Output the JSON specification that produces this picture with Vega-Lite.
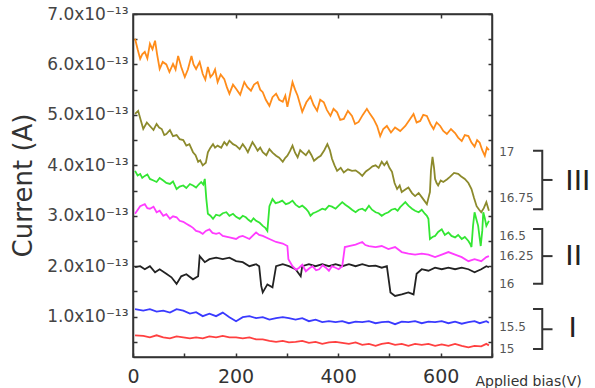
{
  "$schema": "https://vega.github.io/schema/vega-lite/v6.json",
  "width": 359,
  "height": 343,
  "autosize": {"type": "none"},
  "padding": {"left": 133, "top": 14, "right": 103, "bottom": 31},
  "background": "white",
  "config": {"view": {"stroke": "#333", "strokeWidth": 1.5}, "font": "DejaVu Sans"},
  "datasets": {
    "curves": [
      {"s":"red","x":4,"y":0.63},{"s":"red","x":20,"y":0.62},{"s":"red","x":33,"y":0.59},{"s":"red","x":46,"y":0.63},{"s":"red","x":59,"y":0.59},{"s":"red","x":72,"y":0.57},{"s":"red","x":85,"y":0.61},{"s":"red","x":98,"y":0.59},{"s":"red","x":111,"y":0.57},{"s":"red","x":123,"y":0.59},{"s":"red","x":136,"y":0.57},{"s":"red","x":149,"y":0.61},{"s":"red","x":162,"y":0.59},{"s":"red","x":175,"y":0.62},{"s":"red","x":188,"y":0.59},{"s":"red","x":201,"y":0.59},{"s":"red","x":214,"y":0.57},{"s":"red","x":227,"y":0.59},{"s":"red","x":240,"y":0.55},{"s":"red","x":253,"y":0.55},{"s":"red","x":266,"y":0.52},{"s":"red","x":279,"y":0.5},{"s":"red","x":292,"y":0.52},{"s":"red","x":304,"y":0.49},{"s":"red","x":317,"y":0.5},{"s":"red","x":330,"y":0.52},{"s":"red","x":343,"y":0.48},{"s":"red","x":356,"y":0.5},{"s":"red","x":369,"y":0.46},{"s":"red","x":382,"y":0.49},{"s":"red","x":395,"y":0.5},{"s":"red","x":408,"y":0.48},{"s":"red","x":421,"y":0.46},{"s":"red","x":434,"y":0.49},{"s":"red","x":447,"y":0.44},{"s":"red","x":460,"y":0.46},{"s":"red","x":473,"y":0.42},{"s":"red","x":485,"y":0.46},{"s":"red","x":498,"y":0.48},{"s":"red","x":511,"y":0.44},{"s":"red","x":524,"y":0.46},{"s":"red","x":537,"y":0.42},{"s":"red","x":550,"y":0.46},{"s":"red","x":563,"y":0.44},{"s":"red","x":576,"y":0.46},{"s":"red","x":589,"y":0.42},{"s":"red","x":602,"y":0.45},{"s":"red","x":615,"y":0.42},{"s":"red","x":628,"y":0.46},{"s":"red","x":641,"y":0.42},{"s":"red","x":654,"y":0.39},{"s":"red","x":666,"y":0.42},{"s":"red","x":679,"y":0.41},{"s":"red","x":689,"y":0.46},{"s":"red","x":694,"y":0.43},
      {"s":"blue","x":4,"y":1.15},{"s":"blue","x":20,"y":1.12},{"s":"blue","x":33,"y":1.15},{"s":"blue","x":46,"y":1.1},{"s":"blue","x":59,"y":1.12},{"s":"blue","x":72,"y":1.08},{"s":"blue","x":85,"y":1.15},{"s":"blue","x":98,"y":1.12},{"s":"blue","x":111,"y":1.06},{"s":"blue","x":123,"y":1.09},{"s":"blue","x":136,"y":1.01},{"s":"blue","x":149,"y":1.06},{"s":"blue","x":162,"y":1.01},{"s":"blue","x":175,"y":1.08},{"s":"blue","x":188,"y":0.99},{"s":"blue","x":201,"y":0.91},{"s":"blue","x":214,"y":0.99},{"s":"blue","x":227,"y":1.01},{"s":"blue","x":240,"y":0.97},{"s":"blue","x":253,"y":0.99},{"s":"blue","x":266,"y":0.94},{"s":"blue","x":279,"y":0.97},{"s":"blue","x":292,"y":0.99},{"s":"blue","x":304,"y":0.97},{"s":"blue","x":317,"y":0.94},{"s":"blue","x":330,"y":0.97},{"s":"blue","x":343,"y":0.91},{"s":"blue","x":356,"y":0.94},{"s":"blue","x":369,"y":0.89},{"s":"blue","x":382,"y":0.91},{"s":"blue","x":395,"y":0.89},{"s":"blue","x":408,"y":0.91},{"s":"blue","x":421,"y":0.87},{"s":"blue","x":434,"y":0.9},{"s":"blue","x":447,"y":0.89},{"s":"blue","x":460,"y":0.91},{"s":"blue","x":473,"y":0.87},{"s":"blue","x":485,"y":0.89},{"s":"blue","x":498,"y":0.9},{"s":"blue","x":511,"y":0.85},{"s":"blue","x":524,"y":0.9},{"s":"blue","x":537,"y":0.89},{"s":"blue","x":550,"y":0.91},{"s":"blue","x":563,"y":0.87},{"s":"blue","x":576,"y":0.9},{"s":"blue","x":589,"y":0.89},{"s":"blue","x":602,"y":0.91},{"s":"blue","x":615,"y":0.87},{"s":"blue","x":628,"y":0.9},{"s":"blue","x":641,"y":0.86},{"s":"blue","x":654,"y":0.89},{"s":"blue","x":666,"y":0.91},{"s":"blue","x":676,"y":0.87},{"s":"blue","x":689,"y":0.91},{"s":"blue","x":694,"y":0.88},
      {"s":"black","x":4,"y":1.98},{"s":"black","x":14,"y":2.0},{"s":"black","x":23,"y":1.94},{"s":"black","x":33,"y":2.0},{"s":"black","x":43,"y":1.88},{"s":"black","x":52,"y":1.94},{"s":"black","x":65,"y":1.85},{"s":"black","x":75,"y":1.78},{"s":"black","x":85,"y":1.65},{"s":"black","x":94,"y":1.8},{"s":"black","x":104,"y":1.84},{"s":"black","x":117,"y":1.74},{"s":"black","x":127,"y":1.8},{"s":"black","x":130,"y":2.2},{"s":"black","x":140,"y":2.08},{"s":"black","x":149,"y":2.14},{"s":"black","x":162,"y":2.17},{"s":"black","x":175,"y":2.14},{"s":"black","x":188,"y":2.17},{"s":"black","x":201,"y":2.1},{"s":"black","x":214,"y":2.08},{"s":"black","x":227,"y":2.0},{"s":"black","x":240,"y":2.04},{"s":"black","x":246,"y":2.0},{"s":"black","x":250,"y":1.61},{"s":"black","x":253,"y":1.48},{"s":"black","x":262,"y":1.64},{"s":"black","x":272,"y":1.58},{"s":"black","x":279,"y":2.0},{"s":"black","x":292,"y":2.04},{"s":"black","x":304,"y":2.0},{"s":"black","x":317,"y":1.94},{"s":"black","x":327,"y":1.8},{"s":"black","x":330,"y":2.0},{"s":"black","x":343,"y":2.04},{"s":"black","x":356,"y":2.0},{"s":"black","x":369,"y":2.04},{"s":"black","x":382,"y":2.0},{"s":"black","x":395,"y":2.04},{"s":"black","x":408,"y":2.0},{"s":"black","x":421,"y":2.04},{"s":"black","x":434,"y":2.0},{"s":"black","x":447,"y":2.04},{"s":"black","x":460,"y":2.0},{"s":"black","x":473,"y":2.01},{"s":"black","x":485,"y":1.97},{"s":"black","x":495,"y":2.0},{"s":"black","x":502,"y":1.48},{"s":"black","x":511,"y":1.41},{"s":"black","x":524,"y":1.44},{"s":"black","x":537,"y":1.48},{"s":"black","x":547,"y":1.44},{"s":"black","x":553,"y":1.85},{"s":"black","x":563,"y":1.94},{"s":"black","x":576,"y":1.91},{"s":"black","x":589,"y":1.97},{"s":"black","x":602,"y":1.94},{"s":"black","x":615,"y":1.97},{"s":"black","x":628,"y":1.94},{"s":"black","x":641,"y":1.97},{"s":"black","x":654,"y":1.94},{"s":"black","x":666,"y":1.88},{"s":"black","x":679,"y":1.94},{"s":"black","x":689,"y":2.0},{"s":"black","x":694,"y":1.98},
      {"s":"magenta","x":4,"y":3.04},{"s":"magenta","x":14,"y":3.19},{"s":"magenta","x":23,"y":3.23},{"s":"magenta","x":28,"y":3.15},{"s":"magenta","x":33,"y":3.14},{"s":"magenta","x":40,"y":3.18},{"s":"magenta","x":46,"y":3.07},{"s":"magenta","x":52,"y":3.1},{"s":"magenta","x":59,"y":3.0},{"s":"magenta","x":65,"y":3.03},{"s":"magenta","x":72,"y":2.94},{"s":"magenta","x":78,"y":2.99},{"s":"magenta","x":85,"y":2.97},{"s":"magenta","x":91,"y":2.9},{"s":"magenta","x":98,"y":2.88},{"s":"magenta","x":104,"y":2.84},{"s":"magenta","x":111,"y":2.8},{"s":"magenta","x":117,"y":2.76},{"s":"magenta","x":123,"y":2.7},{"s":"magenta","x":130,"y":2.68},{"s":"magenta","x":136,"y":2.64},{"s":"magenta","x":142,"y":2.7},{"s":"magenta","x":149,"y":2.73},{"s":"magenta","x":155,"y":2.66},{"s":"magenta","x":162,"y":2.64},{"s":"magenta","x":168,"y":2.66},{"s":"magenta","x":175,"y":2.6},{"s":"magenta","x":188,"y":2.57},{"s":"magenta","x":201,"y":2.54},{"s":"magenta","x":207,"y":2.58},{"s":"magenta","x":214,"y":2.6},{"s":"magenta","x":227,"y":2.54},{"s":"magenta","x":240,"y":2.67},{"s":"magenta","x":246,"y":2.62},{"s":"magenta","x":253,"y":2.6},{"s":"magenta","x":266,"y":2.54},{"s":"magenta","x":279,"y":2.48},{"s":"magenta","x":292,"y":2.45},{"s":"magenta","x":301,"y":2.4},{"s":"magenta","x":303,"y":2.14},{"s":"magenta","x":311,"y":2.0},{"s":"magenta","x":318,"y":1.93},{"s":"magenta","x":324,"y":1.97},{"s":"magenta","x":330,"y":2.03},{"s":"magenta","x":337,"y":1.9},{"s":"magenta","x":344,"y":1.96},{"s":"magenta","x":350,"y":2.0},{"s":"magenta","x":357,"y":1.92},{"s":"magenta","x":363,"y":1.94},{"s":"magenta","x":370,"y":2.02},{"s":"magenta","x":376,"y":1.97},{"s":"magenta","x":382,"y":1.91},{"s":"magenta","x":388,"y":2.0},{"s":"magenta","x":395,"y":1.97},{"s":"magenta","x":401,"y":1.94},{"s":"magenta","x":408,"y":2.0},{"s":"magenta","x":413,"y":2.38},{"s":"magenta","x":421,"y":2.4},{"s":"magenta","x":434,"y":2.43},{"s":"magenta","x":447,"y":2.48},{"s":"magenta","x":453,"y":2.42},{"s":"magenta","x":460,"y":2.4},{"s":"magenta","x":473,"y":2.38},{"s":"magenta","x":485,"y":2.4},{"s":"magenta","x":498,"y":2.34},{"s":"magenta","x":511,"y":2.38},{"s":"magenta","x":524,"y":2.28},{"s":"magenta","x":537,"y":2.25},{"s":"magenta","x":550,"y":2.23},{"s":"magenta","x":563,"y":2.25},{"s":"magenta","x":576,"y":2.23},{"s":"magenta","x":589,"y":2.18},{"s":"magenta","x":602,"y":2.23},{"s":"magenta","x":615,"y":2.28},{"s":"magenta","x":628,"y":2.23},{"s":"magenta","x":641,"y":2.18},{"s":"magenta","x":654,"y":2.1},{"s":"magenta","x":666,"y":2.14},{"s":"magenta","x":679,"y":2.1},{"s":"magenta","x":689,"y":2.18},{"s":"magenta","x":694,"y":2.2},
      {"s":"green","x":4,"y":3.89},{"s":"green","x":9,"y":3.8},{"s":"green","x":14,"y":3.83},{"s":"green","x":18,"y":3.75},{"s":"green","x":23,"y":3.79},{"s":"green","x":28,"y":3.82},{"s":"green","x":33,"y":3.73},{"s":"green","x":40,"y":3.7},{"s":"green","x":46,"y":3.67},{"s":"green","x":52,"y":3.75},{"s":"green","x":59,"y":3.7},{"s":"green","x":65,"y":3.65},{"s":"green","x":72,"y":3.63},{"s":"green","x":78,"y":3.68},{"s":"green","x":85,"y":3.53},{"s":"green","x":91,"y":3.58},{"s":"green","x":98,"y":3.6},{"s":"green","x":104,"y":3.55},{"s":"green","x":111,"y":3.63},{"s":"green","x":117,"y":3.6},{"s":"green","x":123,"y":3.56},{"s":"green","x":128,"y":3.62},{"s":"green","x":133,"y":3.67},{"s":"green","x":137,"y":3.62},{"s":"green","x":140,"y":3.73},{"s":"green","x":143,"y":3.33},{"s":"green","x":146,"y":3.04},{"s":"green","x":151,"y":3.0},{"s":"green","x":156,"y":2.94},{"s":"green","x":162,"y":3.02},{"s":"green","x":169,"y":3.0},{"s":"green","x":175,"y":3.05},{"s":"green","x":182,"y":3.07},{"s":"green","x":188,"y":3.0},{"s":"green","x":195,"y":3.04},{"s":"green","x":201,"y":2.98},{"s":"green","x":208,"y":2.94},{"s":"green","x":214,"y":3.0},{"s":"green","x":220,"y":2.97},{"s":"green","x":225,"y":2.92},{"s":"green","x":230,"y":2.88},{"s":"green","x":235,"y":2.95},{"s":"green","x":240,"y":2.9},{"s":"green","x":247,"y":2.86},{"s":"green","x":253,"y":2.8},{"s":"green","x":258,"y":2.76},{"s":"green","x":262,"y":2.7},{"s":"green","x":266,"y":3.19},{"s":"green","x":272,"y":3.33},{"s":"green","x":278,"y":3.25},{"s":"green","x":285,"y":3.27},{"s":"green","x":291,"y":3.3},{"s":"green","x":298,"y":3.23},{"s":"green","x":304,"y":3.25},{"s":"green","x":311,"y":3.3},{"s":"green","x":317,"y":3.22},{"s":"green","x":324,"y":3.17},{"s":"green","x":330,"y":3.2},{"s":"green","x":337,"y":3.14},{"s":"green","x":342,"y":3.08},{"s":"green","x":346,"y":3.0},{"s":"green","x":351,"y":3.05},{"s":"green","x":356,"y":3.07},{"s":"green","x":362,"y":3.1},{"s":"green","x":369,"y":3.14},{"s":"green","x":375,"y":3.12},{"s":"green","x":382,"y":3.2},{"s":"green","x":388,"y":3.18},{"s":"green","x":395,"y":3.14},{"s":"green","x":401,"y":3.2},{"s":"green","x":408,"y":3.27},{"s":"green","x":414,"y":3.22},{"s":"green","x":421,"y":3.17},{"s":"green","x":427,"y":3.12},{"s":"green","x":434,"y":3.07},{"s":"green","x":440,"y":3.12},{"s":"green","x":447,"y":3.14},{"s":"green","x":453,"y":3.1},{"s":"green","x":460,"y":3.2},{"s":"green","x":466,"y":3.12},{"s":"green","x":473,"y":3.07},{"s":"green","x":479,"y":3.05},{"s":"green","x":485,"y":3.0},{"s":"green","x":491,"y":3.04},{"s":"green","x":498,"y":3.07},{"s":"green","x":504,"y":3.12},{"s":"green","x":511,"y":3.14},{"s":"green","x":516,"y":3.1},{"s":"green","x":521,"y":3.17},{"s":"green","x":526,"y":3.22},{"s":"green","x":531,"y":3.27},{"s":"green","x":537,"y":3.2},{"s":"green","x":544,"y":3.14},{"s":"green","x":550,"y":3.1},{"s":"green","x":557,"y":3.07},{"s":"green","x":563,"y":3.12},{"s":"green","x":569,"y":3.04},{"s":"green","x":573,"y":3.0},{"s":"green","x":576,"y":2.94},{"s":"green","x":579,"y":2.54},{"s":"green","x":584,"y":2.58},{"s":"green","x":589,"y":2.6},{"s":"green","x":595,"y":2.68},{"s":"green","x":602,"y":2.73},{"s":"green","x":608,"y":2.62},{"s":"green","x":615,"y":2.67},{"s":"green","x":621,"y":2.6},{"s":"green","x":628,"y":2.57},{"s":"green","x":634,"y":2.62},{"s":"green","x":641,"y":2.54},{"s":"green","x":647,"y":2.58},{"s":"green","x":654,"y":2.5},{"s":"green","x":657,"y":2.45},{"s":"green","x":660,"y":2.38},{"s":"green","x":663,"y":2.8},{"s":"green","x":666,"y":3.07},{"s":"green","x":669,"y":2.95},{"s":"green","x":673,"y":2.8},{"s":"green","x":676,"y":2.55},{"s":"green","x":678,"y":2.4},{"s":"green","x":681,"y":2.7},{"s":"green","x":683,"y":3.07},{"s":"green","x":686,"y":2.95},{"s":"green","x":689,"y":2.8},{"s":"green","x":694,"y":2.9},
      {"s":"olive","x":4,"y":5.02},{"s":"olive","x":10,"y":5.08},{"s":"olive","x":15,"y":4.9},{"s":"olive","x":20,"y":4.72},{"s":"olive","x":27,"y":4.85},{"s":"olive","x":33,"y":4.78},{"s":"olive","x":40,"y":4.7},{"s":"olive","x":46,"y":4.82},{"s":"olive","x":51,"y":4.75},{"s":"olive","x":56,"y":4.72},{"s":"olive","x":61,"y":4.6},{"s":"olive","x":65,"y":4.62},{"s":"olive","x":72,"y":4.7},{"s":"olive","x":78,"y":4.58},{"s":"olive","x":85,"y":4.6},{"s":"olive","x":91,"y":4.52},{"s":"olive","x":98,"y":4.5},{"s":"olive","x":104,"y":4.39},{"s":"olive","x":110,"y":4.42},{"s":"olive","x":117,"y":4.26},{"s":"olive","x":122,"y":4.2},{"s":"olive","x":127,"y":4.07},{"s":"olive","x":131,"y":4.1},{"s":"olive","x":136,"y":4.0},{"s":"olive","x":142,"y":4.05},{"s":"olive","x":146,"y":4.26},{"s":"olive","x":151,"y":4.35},{"s":"olive","x":156,"y":4.42},{"s":"olive","x":160,"y":4.35},{"s":"olive","x":165,"y":4.39},{"s":"olive","x":172,"y":4.35},{"s":"olive","x":178,"y":4.46},{"s":"olive","x":183,"y":4.4},{"s":"olive","x":188,"y":4.49},{"s":"olive","x":195,"y":4.42},{"s":"olive","x":201,"y":4.39},{"s":"olive","x":208,"y":4.32},{"s":"olive","x":214,"y":4.42},{"s":"olive","x":219,"y":4.35},{"s":"olive","x":224,"y":4.26},{"s":"olive","x":228,"y":4.35},{"s":"olive","x":233,"y":4.46},{"s":"olive","x":238,"y":4.38},{"s":"olive","x":243,"y":4.29},{"s":"olive","x":248,"y":4.35},{"s":"olive","x":253,"y":4.26},{"s":"olive","x":260,"y":4.2},{"s":"olive","x":266,"y":4.32},{"s":"olive","x":272,"y":4.25},{"s":"olive","x":279,"y":4.19},{"s":"olive","x":285,"y":4.15},{"s":"olive","x":292,"y":4.07},{"s":"olive","x":297,"y":4.15},{"s":"olive","x":301,"y":4.19},{"s":"olive","x":306,"y":4.28},{"s":"olive","x":311,"y":4.39},{"s":"olive","x":316,"y":4.25},{"s":"olive","x":321,"y":4.16},{"s":"olive","x":326,"y":4.3},{"s":"olive","x":330,"y":4.26},{"s":"olive","x":337,"y":4.2},{"s":"olive","x":343,"y":4.29},{"s":"olive","x":348,"y":4.2},{"s":"olive","x":353,"y":4.09},{"s":"olive","x":360,"y":4.15},{"s":"olive","x":366,"y":4.19},{"s":"olive","x":373,"y":4.3},{"s":"olive","x":379,"y":4.42},{"s":"olive","x":384,"y":4.3},{"s":"olive","x":388,"y":4.13},{"s":"olive","x":393,"y":4.0},{"s":"olive","x":398,"y":3.89},{"s":"olive","x":405,"y":3.95},{"s":"olive","x":411,"y":3.86},{"s":"olive","x":419,"y":3.92},{"s":"olive","x":427,"y":3.89},{"s":"olive","x":434,"y":3.9},{"s":"olive","x":441,"y":3.85},{"s":"olive","x":447,"y":3.79},{"s":"olive","x":454,"y":3.88},{"s":"olive","x":460,"y":3.92},{"s":"olive","x":467,"y":3.98},{"s":"olive","x":473,"y":4.0},{"s":"olive","x":479,"y":3.95},{"s":"olive","x":485,"y":4.07},{"s":"olive","x":490,"y":4.0},{"s":"olive","x":495,"y":4.07},{"s":"olive","x":500,"y":3.95},{"s":"olive","x":505,"y":3.87},{"s":"olive","x":510,"y":3.65},{"s":"olive","x":515,"y":3.53},{"s":"olive","x":520,"y":3.6},{"s":"olive","x":524,"y":3.47},{"s":"olive","x":531,"y":3.52},{"s":"olive","x":537,"y":3.56},{"s":"olive","x":544,"y":3.45},{"s":"olive","x":550,"y":3.39},{"s":"olive","x":557,"y":3.45},{"s":"olive","x":563,"y":3.37},{"s":"olive","x":568,"y":3.3},{"s":"olive","x":573,"y":3.23},{"s":"olive","x":576,"y":3.35},{"s":"olive","x":579,"y":3.47},{"s":"olive","x":581,"y":3.9},{"s":"olive","x":584,"y":4.17},{"s":"olive","x":587,"y":3.95},{"s":"olive","x":589,"y":3.73},{"s":"olive","x":592,"y":3.65},{"s":"olive","x":595,"y":3.6},{"s":"olive","x":600,"y":3.7},{"s":"olive","x":605,"y":3.67},{"s":"olive","x":612,"y":3.72},{"s":"olive","x":618,"y":3.77},{"s":"olive","x":626,"y":3.85},{"s":"olive","x":634,"y":3.83},{"s":"olive","x":640,"y":3.78},{"s":"olive","x":647,"y":3.73},{"s":"olive","x":654,"y":3.65},{"s":"olive","x":660,"y":3.53},{"s":"olive","x":665,"y":3.35},{"s":"olive","x":670,"y":3.19},{"s":"olive","x":675,"y":3.12},{"s":"olive","x":679,"y":3.07},{"s":"olive","x":684,"y":3.15},{"s":"olive","x":689,"y":3.27},{"s":"olive","x":694,"y":3.1},
      {"s":"orange","x":4,"y":6.51},{"s":"orange","x":9,"y":6.3},{"s":"orange","x":14,"y":6.11},{"s":"orange","x":18,"y":6.2},{"s":"orange","x":23,"y":6.25},{"s":"orange","x":28,"y":6.12},{"s":"orange","x":33,"y":6.41},{"s":"orange","x":38,"y":6.3},{"s":"orange","x":43,"y":6.47},{"s":"orange","x":47,"y":6.2},{"s":"orange","x":52,"y":5.91},{"s":"orange","x":58,"y":6.05},{"s":"orange","x":65,"y":6.0},{"s":"orange","x":71,"y":5.85},{"s":"orange","x":78,"y":6.01},{"s":"orange","x":83,"y":5.9},{"s":"orange","x":88,"y":6.17},{"s":"orange","x":94,"y":5.95},{"s":"orange","x":101,"y":5.75},{"s":"orange","x":107,"y":5.9},{"s":"orange","x":114,"y":6.17},{"s":"orange","x":118,"y":6.0},{"s":"orange","x":123,"y":5.91},{"s":"orange","x":130,"y":6.05},{"s":"orange","x":136,"y":5.81},{"s":"orange","x":141,"y":5.7},{"s":"orange","x":146,"y":5.95},{"s":"orange","x":151,"y":5.75},{"s":"orange","x":156,"y":5.81},{"s":"orange","x":160,"y":5.9},{"s":"orange","x":165,"y":5.65},{"s":"orange","x":171,"y":5.8},{"s":"orange","x":178,"y":5.71},{"s":"orange","x":183,"y":5.55},{"s":"orange","x":188,"y":5.42},{"s":"orange","x":195,"y":5.6},{"s":"orange","x":201,"y":5.52},{"s":"orange","x":209,"y":5.4},{"s":"orange","x":217,"y":5.65},{"s":"orange","x":223,"y":5.55},{"s":"orange","x":230,"y":5.48},{"s":"orange","x":236,"y":5.6},{"s":"orange","x":243,"y":5.65},{"s":"orange","x":248,"y":5.5},{"s":"orange","x":253,"y":5.45},{"s":"orange","x":259,"y":5.3},{"s":"orange","x":266,"y":5.18},{"s":"orange","x":272,"y":5.35},{"s":"orange","x":279,"y":5.42},{"s":"orange","x":285,"y":5.3},{"s":"orange","x":292,"y":5.26},{"s":"orange","x":297,"y":5.38},{"s":"orange","x":301,"y":5.16},{"s":"orange","x":306,"y":5.4},{"s":"orange","x":311,"y":5.65},{"s":"orange","x":316,"y":5.5},{"s":"orange","x":321,"y":5.38},{"s":"orange","x":326,"y":5.2},{"s":"orange","x":330,"y":5.06},{"s":"orange","x":338,"y":5.25},{"s":"orange","x":346,"y":5.36},{"s":"orange","x":352,"y":5.2},{"s":"orange","x":359,"y":5.08},{"s":"orange","x":365,"y":5.3},{"s":"orange","x":372,"y":5.25},{"s":"orange","x":378,"y":5.1},{"s":"orange","x":385,"y":4.98},{"s":"orange","x":391,"y":5.12},{"s":"orange","x":398,"y":5.05},{"s":"orange","x":404,"y":4.9},{"s":"orange","x":411,"y":4.92},{"s":"orange","x":419,"y":5.08},{"s":"orange","x":427,"y":4.98},{"s":"orange","x":433,"y":4.82},{"s":"orange","x":440,"y":4.86},{"s":"orange","x":448,"y":5.0},{"s":"orange","x":456,"y":5.12},{"s":"orange","x":462,"y":5.02},{"s":"orange","x":469,"y":4.92},{"s":"orange","x":476,"y":4.78},{"s":"orange","x":482,"y":4.58},{"s":"orange","x":488,"y":4.72},{"s":"orange","x":495,"y":4.78},{"s":"orange","x":503,"y":4.65},{"s":"orange","x":511,"y":4.75},{"s":"orange","x":521,"y":4.68},{"s":"orange","x":531,"y":4.78},{"s":"orange","x":539,"y":4.9},{"s":"orange","x":547,"y":5.02},{"s":"orange","x":553,"y":4.85},{"s":"orange","x":560,"y":4.88},{"s":"orange","x":566,"y":5.0},{"s":"orange","x":573,"y":4.98},{"s":"orange","x":580,"y":4.82},{"s":"orange","x":586,"y":4.72},{"s":"orange","x":592,"y":4.85},{"s":"orange","x":599,"y":4.78},{"s":"orange","x":605,"y":4.68},{"s":"orange","x":612,"y":4.62},{"s":"orange","x":620,"y":4.72},{"s":"orange","x":628,"y":4.64},{"s":"orange","x":634,"y":4.55},{"s":"orange","x":641,"y":4.48},{"s":"orange","x":647,"y":4.6},{"s":"orange","x":654,"y":4.58},{"s":"orange","x":660,"y":4.45},{"s":"orange","x":666,"y":4.37},{"s":"orange","x":671,"y":4.5},{"s":"orange","x":676,"y":4.45},{"s":"orange","x":681,"y":4.3},{"s":"orange","x":686,"y":4.19},{"s":"orange","x":690,"y":4.35},{"s":"orange","x":694,"y":4.3}
    ],
    "rlabels": [
      {"t":"17","x":714,"y":4.27},{"t":"16.75","x":714,"y":3.35},{"t":"16.5","x":714,"y":2.6},{"t":"16.25","x":714,"y":2.2},{"t":"16","x":714,"y":1.65},{"t":"15.5","x":714,"y":0.79},{"t":"15","x":714,"y":0.36}
    ],
    "brackets": [
      {"g":"IIIb","o":0,"x":780,"y":4.29},{"g":"IIIb","o":1,"x":798,"y":4.29},{"g":"IIIb","o":2,"x":798,"y":3.13},{"g":"IIIb","o":3,"x":780,"y":3.13},
      {"g":"IIIt","o":0,"x":798,"y":3.71},{"g":"IIIt","o":1,"x":818,"y":3.71},
      {"g":"IIb","o":0,"x":780,"y":2.74},{"g":"IIb","o":1,"x":798,"y":2.74},{"g":"IIb","o":2,"x":798,"y":1.65},{"g":"IIb","o":3,"x":780,"y":1.65},
      {"g":"IIt","o":0,"x":798,"y":2.2},{"g":"IIt","o":1,"x":818,"y":2.2},
      {"g":"Ib","o":0,"x":780,"y":1.15},{"g":"Ib","o":1,"x":798,"y":1.15},{"g":"Ib","o":2,"x":798,"y":0.36},{"g":"Ib","o":3,"x":780,"y":0.36},
      {"g":"It","o":0,"x":798,"y":0.75},{"g":"It","o":1,"x":818,"y":0.75}
    ],
    "roman": [
      {"t":"III","x":843,"y":3.69},{"t":"II","x":843,"y":2.2},{"t":"I","x":849,"y":0.77}
    ]
  },
  "resolve": {"axis": {"x": "independent", "y": "independent"}},
  "layer": [
    {
      "data": {"name": "curves"},
      "mark": {"type": "line", "strokeWidth": 1.8, "clip": true},
      "encoding": {
        "x": {"field": "x", "type": "quantitative", "scale": {"domain": [0, 700], "nice": false},
          "axis": {"orient": "bottom", "values": [0,100,200,300,400,500,600,700], "labelExpr": "datum.value % 200 === 0 && datum.value < 700 ? datum.label : ''", "format": "d",
            "tickSize": -4, "tickColor": "#333", "tickWidth": 1.5, "domainColor": "#333", "domainWidth": 1.5, "grid": false,
            "labelFontSize": 19, "labelColor": "#333", "labelPadding": 14, "labelFlush": false, "labelOverlap": false,
            "title": "Applied bias(V)", "titleX": 342, "titleY": 24, "titleAlign": "left", "titleBaseline": "middle", "titleFontSize": 14, "titleFontWeight": "normal", "titleColor": "#333"}},
        "y": {"field": "y", "type": "quantitative", "scale": {"domain": [0.2, 7.0], "nice": false, "zero": false},
          "axis": {"orient": "left", "values": [0.5,1,1.5,2,2.5,3,3.5,4,4.5,5,5.5,6,6.5,7], "labelExpr": "datum.value % 1 === 0 ? format(datum.value, '.1f') + 'x10⁻¹³' : ''",
            "tickSize": -4, "tickColor": "#333", "tickWidth": 1.5, "domainColor": "#333", "domainWidth": 1.5, "grid": false,
            "labelFontSize": 17, "labelColor": "#444", "labelPadding": 9, "labelFlush": false, "labelOverlap": false,
            "title": "Current (A)", "titleFontSize": 26, "titleFontWeight": "normal", "titleColor": "#333", "titleX": -97, "titleY": 171, "titleAlign": "center", "titleBaseline": "bottom", "titleAngle": 270}},
        "color": {"field": "s", "type": "nominal",
          "scale": {"domain": ["red","blue","black","magenta","green","olive","orange"], "range": ["#ff4040","#3a3aff","#222222","#ff3cff","#33e633","#8c8a2c","#ff8c1a"]},
          "legend": null}
      }
    },
    {
      "data": {"name": "rlabels"},
      "mark": {"type": "text", "align": "left", "baseline": "middle", "fontSize": 12, "color": "#555", "clip": false},
      "encoding": {
        "x": {"field": "x", "type": "quantitative", "scale": {"domain": [0, 700], "nice": false},
          "axis": {"orient": "top", "values": [200,400,600], "labels": false, "tickSize": -4, "tickColor": "#333", "tickWidth": 1.5, "domainColor": "#333", "domainWidth": 1.5, "grid": false, "title": null}},
        "y": {"field": "y", "type": "quantitative", "scale": {"domain": [0.2, 7.0], "nice": false, "zero": false},
          "axis": {"orient": "right", "values": [0.5,1,1.5,2,2.5,3,3.5,4,4.5,5,5.5,6,6.5,7], "labels": false, "tickSize": -4, "tickColor": "#333", "tickWidth": 1.5, "domainColor": "#333", "domainWidth": 1.5, "grid": false, "title": null}},
        "text": {"field": "t"}
      }
    },
    {
      "data": {"name": "brackets"},
      "mark": {"type": "line", "strokeWidth": 2, "color": "#333", "clip": false},
      "encoding": {
        "x": {"field": "x", "type": "quantitative", "scale": {"domain": [0, 700], "nice": false}, "axis": null},
        "y": {"field": "y", "type": "quantitative", "scale": {"domain": [0.2, 7.0], "nice": false, "zero": false}, "axis": null},
        "detail": {"field": "g"},
        "order": {"field": "o"}
      }
    },
    {
      "data": {"name": "roman"},
      "mark": {"type": "text", "align": "left", "baseline": "middle", "fontSize": 30, "color": "#222", "font": "Liberation Sans", "clip": false},
      "encoding": {
        "x": {"field": "x", "type": "quantitative", "scale": {"domain": [0, 700], "nice": false}, "axis": null},
        "y": {"field": "y", "type": "quantitative", "scale": {"domain": [0.2, 7.0], "nice": false, "zero": false}, "axis": null},
        "text": {"field": "t"}
      }
    }
  ]
}
